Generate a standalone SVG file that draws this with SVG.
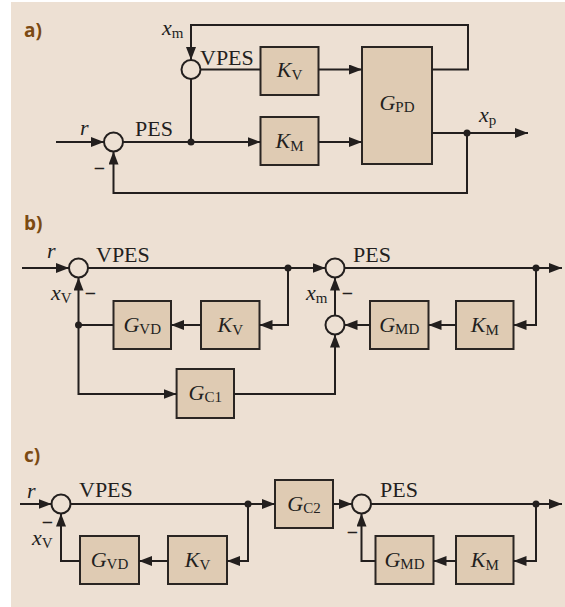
<svg xmlns="http://www.w3.org/2000/svg" width="565" height="607" viewBox="0 0 565 607">
<style>
.bg{fill:#ede0d3}
.box{fill:#dfcbb3;stroke:#2a2522;stroke-width:2}
.ln{fill:none;stroke:#231f1e;stroke-width:2}
.ar{fill:none;stroke:#231f1e;stroke-width:2;marker-end:url(#ah)}
.sum{fill:#ede0d3;stroke:#231f1e;stroke-width:2}
.dot{fill:#231f1e}
.t{font-family:"Liberation Serif",serif;font-size:22px;fill:#231f1e}
.i{font-style:italic}
.s{font-size:15px}
.m{font-family:"Liberation Serif",serif;font-size:19px;fill:#231f1e;stroke:#231f1e;stroke-width:0.5}
.p{font-family:"Open Sans","Liberation Sans",sans-serif;font-weight:bold;font-size:19px;fill:#7b4a12}
</style>
<defs>
<marker id="ah" viewBox="0 0 13 10" refX="13" refY="5" markerWidth="13" markerHeight="10" markerUnits="userSpaceOnUse" orient="auto">
<path d="M0,0 L13,5 L0,10 z" fill="#231f1e"/>
</marker>
</defs>
<rect class="bg" x="11" y="2" width="554" height="605"/>

<!-- panel a -->
<text class="p" x="24" y="37">a)</text>
<g id="a-sum-pes"><circle class="sum" cx="113.5" cy="142" r="9.5"/></g>
<g id="a-sum-vpes"><circle class="sum" cx="191" cy="69.5" r="9.5"/></g>
<g id="a-kv"><rect class="box" x="260.5" y="47" width="58" height="48"/><text class="t" x="289.5" y="77" text-anchor="middle"><tspan class="i">K</tspan><tspan class="s" dy="3">V</tspan></text></g>
<g id="a-km"><rect class="box" x="260.5" y="117" width="58" height="48"/><text class="t" x="289.5" y="148" text-anchor="middle"><tspan class="i">K</tspan><tspan class="s" dy="3">M</tspan></text></g>
<g id="a-gpd"><rect class="box" x="362" y="47" width="70" height="117"/><text class="t" x="397" y="110" text-anchor="middle"><tspan class="i">G</tspan><tspan class="s" dy="2">PD</tspan></text></g>
<g id="a-conn">
<path class="ar" d="M56,142 H104"/>
<path class="ar" d="M123,142 H260.5"/>
<path class="ln" d="M191,142 V79"/>
<path class="ln" d="M200.5,69.5 H260.5"/>
<path class="ar" d="M318.5,69.5 H362"/>
<path class="ar" d="M318.5,142 H362"/>
<path class="ar" d="M432,69.5 H468 V25 H191 V60"/>
<path class="ar" d="M432,133 H528"/>
<path class="ar" d="M467,133 V193 H113.5 V151.5"/>
<circle class="dot" cx="191" cy="142" r="3.5"/>
<circle class="dot" cx="467" cy="133" r="3.5"/>
</g>
<text class="t i" x="80" y="135">r</text>
<text class="t" x="135" y="136">PES</text>
<text class="t" x="200" y="65">VPES</text>
<text class="t" x="162" y="35"><tspan class="i">x</tspan><tspan class="s" dy="3">m</tspan></text>
<text class="t" x="479" y="122"><tspan class="i">x</tspan><tspan class="s" dy="3">p</tspan></text>
<text class="m" x="94" y="175">−</text>

<!-- panel b -->
<text class="p" x="24" y="230">b)</text>
<g id="b-sum1"><circle class="sum" cx="78.5" cy="268" r="9.5"/></g>
<g id="b-sum2"><circle class="sum" cx="335" cy="268" r="9.5"/></g>
<g id="b-sum3"><circle class="sum" cx="335" cy="325" r="9.5"/></g>
<g id="b-gvd"><rect class="box" x="113.5" y="301" width="57.5" height="48"/><text class="t" x="142.25" y="332" text-anchor="middle"><tspan class="i">G</tspan><tspan class="s" dy="2">VD</tspan></text></g>
<g id="b-kv"><rect class="box" x="201" y="301" width="58.5" height="48"/><text class="t" x="230.25" y="332" text-anchor="middle"><tspan class="i">K</tspan><tspan class="s" dy="3">V</tspan></text></g>
<g id="b-gc1"><rect class="box" x="176.6" y="369" width="57.4" height="49"/><text class="t" x="205.3" y="400" text-anchor="middle"><tspan class="i">G</tspan><tspan class="s" dy="2">C1</tspan></text></g>
<g id="b-gmd"><rect class="box" x="370" y="301" width="58.5" height="48"/><text class="t" x="399.25" y="332" text-anchor="middle"><tspan class="i">G</tspan><tspan class="s" dy="2">MD</tspan></text></g>
<g id="b-km"><rect class="box" x="456" y="301" width="57.5" height="48"/><text class="t" x="484.75" y="332" text-anchor="middle"><tspan class="i">K</tspan><tspan class="s" dy="3">M</tspan></text></g>
<g id="b-conn">
<path class="ar" d="M22,268 H69"/>
<path class="ar" d="M88,268 H325.5"/>
<path class="ar" d="M344.5,268 H562"/>
<path class="ar" d="M288,268 V325 H259.5"/>
<path class="ar" d="M201,325 H171"/>
<path class="ar" d="M113.5,325 H78.5 V277.5"/>
<path class="ar" d="M78.5,325 V394 H176.6"/>
<path class="ar" d="M234,394 H335 V334.5"/>
<path class="ar" d="M335,315.5 V277.5"/>
<path class="ar" d="M536,268 V325 H513.5"/>
<path class="ar" d="M456,325 H428.5"/>
<path class="ar" d="M370,325 H344.5"/>
<circle class="dot" cx="288" cy="268" r="3.5"/>
<circle class="dot" cx="536" cy="268" r="3.5"/>
<circle class="dot" cx="78.5" cy="325" r="3.5"/>
</g>
<text class="t i" x="47" y="258">r</text>
<text class="t" x="96" y="262">VPES</text>
<text class="t" x="353" y="262">PES</text>
<text class="t" x="51" y="300"><tspan class="i">x</tspan><tspan class="s" dy="3">V</tspan></text>
<text class="t" x="306" y="300"><tspan class="i">x</tspan><tspan class="s" dy="3">m</tspan></text>
<text class="m" x="85" y="300">−</text>
<text class="m" x="342" y="300">−</text>

<!-- panel c -->
<text class="p" x="24" y="462">c)</text>
<g id="c-sum1"><circle class="sum" cx="61" cy="504" r="9.5"/></g>
<g id="c-sum2"><circle class="sum" cx="361.5" cy="504" r="9.5"/></g>
<g id="c-gc2"><rect class="box" x="275" y="480" width="58" height="48"/><text class="t" x="304" y="511" text-anchor="middle"><tspan class="i">G</tspan><tspan class="s" dy="2">C2</tspan></text></g>
<g id="c-gvd"><rect class="box" x="80" y="536" width="59" height="48"/><text class="t" x="109.5" y="567" text-anchor="middle"><tspan class="i">G</tspan><tspan class="s" dy="2">VD</tspan></text></g>
<g id="c-kv"><rect class="box" x="168" y="536" width="59" height="48"/><text class="t" x="197.5" y="567" text-anchor="middle"><tspan class="i">K</tspan><tspan class="s" dy="3">V</tspan></text></g>
<g id="c-gmd"><rect class="box" x="375.5" y="536" width="58" height="48"/><text class="t" x="404.5" y="567" text-anchor="middle"><tspan class="i">G</tspan><tspan class="s" dy="2">MD</tspan></text></g>
<g id="c-km"><rect class="box" x="456" y="536" width="57.5" height="48"/><text class="t" x="484.75" y="567" text-anchor="middle"><tspan class="i">K</tspan><tspan class="s" dy="3">M</tspan></text></g>
<g id="c-conn">
<path class="ar" d="M20,504 H51.5"/>
<path class="ar" d="M70.5,504 H275"/>
<path class="ar" d="M333,504 H352"/>
<path class="ar" d="M371,504 H562"/>
<path class="ar" d="M248,504 V561 H227"/>
<path class="ar" d="M168,561 H139"/>
<path class="ar" d="M80,561 H61 V513.5"/>
<path class="ar" d="M536,504 V561 H513.5"/>
<path class="ar" d="M456,561 H433.5"/>
<path class="ar" d="M375.5,561 H361.5 V513.5"/>
<circle class="dot" cx="248" cy="504" r="3.5"/>
<circle class="dot" cx="536" cy="504" r="3.5"/>
</g>
<text class="t i" x="27" y="498">r</text>
<text class="t" x="79" y="497">VPES</text>
<text class="t" x="380" y="497">PES</text>
<text class="t" x="32" y="545"><tspan class="i">x</tspan><tspan class="s" dy="3">V</tspan></text>
<text class="m" x="42" y="529">−</text>
<text class="m" x="347" y="539">−</text>
</svg>
